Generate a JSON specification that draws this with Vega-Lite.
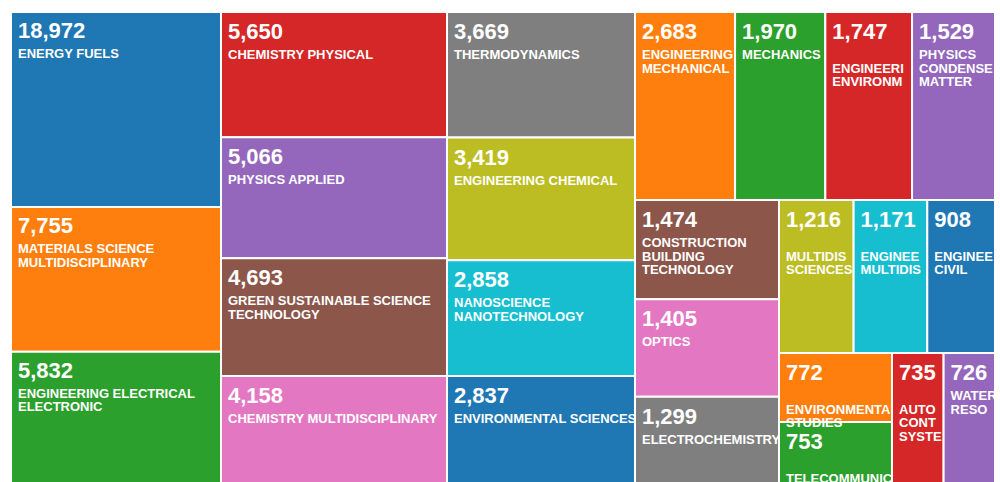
{
  "$schema": "https://vega.github.io/schema/vega-lite/v6.json",
  "background": "white",
  "padding": {"left": 11, "top": 11, "right": 0, "bottom": 0},
  "config": {"view": {"stroke": null}, "concat": {"spacing": 0}},
  "data": {
    "values": [
      {"name": "ENERGY FUELS", "value": 18972},
      {"name": "MATERIALS SCIENCE MULTIDISCIPLINARY", "value": 7755},
      {"name": "ENGINEERING ELECTRICAL ELECTRONIC", "value": 5832},
      {"name": "CHEMISTRY PHYSICAL", "value": 5650},
      {"name": "PHYSICS APPLIED", "value": 5066},
      {"name": "GREEN SUSTAINABLE SCIENCE TECHNOLOGY", "value": 4693},
      {"name": "CHEMISTRY MULTIDISCIPLINARY", "value": 4158},
      {"name": "THERMODYNAMICS", "value": 3669},
      {"name": "ENGINEERING CHEMICAL", "value": 3419},
      {"name": "NANOSCIENCE NANOTECHNOLOGY", "value": 2858},
      {"name": "ENVIRONMENTAL SCIENCES", "value": 2837},
      {"name": "ENGINEERING MECHANICAL", "value": 2683},
      {"name": "MECHANICS", "value": 1970},
      {"name": "ENGINEERING ENVIRONMENTAL", "value": 1747},
      {"name": "PHYSICS CONDENSED MATTER", "value": 1529},
      {"name": "CONSTRUCTION BUILDING TECHNOLOGY", "value": 1474},
      {"name": "OPTICS", "value": 1405},
      {"name": "ELECTROCHEMISTRY", "value": 1299},
      {"name": "MULTIDISCIPLINARY SCIENCES", "value": 1216},
      {"name": "ENGINEERING MULTIDISCIPLINARY", "value": 1171},
      {"name": "ENGINEERING CIVIL", "value": 908},
      {"name": "ENVIRONMENTAL STUDIES", "value": 772},
      {"name": "TELECOMMUNICATIONS", "value": 753},
      {"name": "AUTOMATION CONTROL SYSTEMS", "value": 735},
      {"name": "WATER RESOURCES", "value": 726}
    ]
  },
  "spacing": 0,
  "bounds": "flush",
  "hconcat": [
    {
      "width": 210, "height": 471,
      "transform": [
        {"filter": {"field": "name", "oneOf": ["ENERGY FUELS", "MATERIALS SCIENCE MULTIDISCIPLINARY", "ENGINEERING ELECTRICAL ELECTRONIC"]}},
        {"calculate": "pow(datum.value, 1/3)", "as": "w"},
        {"stack": "w", "groupby": [], "sort": [{"field": "value", "order": "descending"}], "as": ["w0", "w1"]},
        {"calculate": "210", "as": "cw"},
        {"calculate": "split(datum.name, ' ')[0]", "as": "fw"},
        {"calculate": "13 * (0.7 * length(datum.fw) - 0.422 * length(replace(datum.fw, regexp('[^I]', 'g'), '')))", "as": "fwpx"},
        {"calculate": "(datum.fwpx > datum.cw - 2 ? '\\n' : '') + replace(datum.name, regexp('(.{1,' + floor(datum.cw / 8.2) + '})( +|$)', 'g'), '$1\\n')", "as": "label"}
      ],
      "encoding": {
        "x": {"datum": 0, "type": "quantitative", "scale": {"domain": [0, 1]}, "axis": null},
        "y": {"field": "w0", "type": "quantitative", "scale": {"domain": [0, 64.4], "reverse": true, "nice": false}, "axis": null}
      },
      "layer": [
        {"mark": {"type": "rect", "stroke": "white", "strokeWidth": 2, "clip": true},
         "encoding": {"x2": {"datum": 1}, "y2": {"field": "w1"},
           "color": {"field": "name", "type": "nominal", "legend": null, "scale": {"domain": ["ENERGY FUELS", "MATERIALS SCIENCE MULTIDISCIPLINARY", "ENGINEERING ELECTRICAL ELECTRONIC", "CHEMISTRY PHYSICAL", "PHYSICS APPLIED", "GREEN SUSTAINABLE SCIENCE TECHNOLOGY", "CHEMISTRY MULTIDISCIPLINARY", "THERMODYNAMICS", "ENGINEERING CHEMICAL", "NANOSCIENCE NANOTECHNOLOGY", "ENVIRONMENTAL SCIENCES", "ENGINEERING MECHANICAL", "MECHANICS", "ENGINEERING ENVIRONMENTAL", "PHYSICS CONDENSED MATTER", "CONSTRUCTION BUILDING TECHNOLOGY", "OPTICS", "ELECTROCHEMISTRY", "MULTIDISCIPLINARY SCIENCES", "ENGINEERING MULTIDISCIPLINARY", "ENGINEERING CIVIL", "ENVIRONMENTAL STUDIES", "TELECOMMUNICATIONS", "AUTOMATION CONTROL SYSTEMS", "WATER RESOURCES"], "range": ["#1f77b4", "#ff7f0e", "#2ca02c", "#d62728", "#9467bd", "#8c564b", "#e377c2", "#7f7f7f", "#bcbd22", "#17becf"]}}}},
        {"mark": {"type": "text", "align": "left", "baseline": "alphabetic", "dx": 7, "dy": 26, "font": "Liberation Sans", "fontWeight": "bold", "fontSize": 22, "color": "white", "clip": true},
         "encoding": {"text": {"field": "value", "type": "quantitative", "format": ","}}},
        {"mark": {"type": "text", "align": "left", "baseline": "alphabetic", "dx": 7, "dy": 46, "font": "Liberation Sans", "fontWeight": "bold", "fontSize": 13, "lineHeight": 13.5, "lineBreak": "\n", "color": "white", "clip": true},
         "encoding": {"text": {"field": "label"}}}
      ]
    },
    {
      "width": 226, "height": 471,
      "transform": [
        {"filter": {"field": "name", "oneOf": ["CHEMISTRY PHYSICAL", "PHYSICS APPLIED", "GREEN SUSTAINABLE SCIENCE TECHNOLOGY", "CHEMISTRY MULTIDISCIPLINARY"]}},
        {"calculate": "pow(datum.value, 1/3)", "as": "w"},
        {"stack": "w", "groupby": [], "sort": [{"field": "value", "order": "descending"}], "as": ["w0", "w1"]},
        {"calculate": "226", "as": "cw"},
        {"calculate": "split(datum.name, ' ')[0]", "as": "fw"},
        {"calculate": "13 * (0.7 * length(datum.fw) - 0.422 * length(replace(datum.fw, regexp('[^I]', 'g'), '')))", "as": "fwpx"},
        {"calculate": "(datum.fwpx > datum.cw - 2 ? '\\n' : '') + replace(datum.name, regexp('(.{1,' + floor(datum.cw / 8.2) + '})( +|$)', 'g'), '$1\\n')", "as": "label"}
      ],
      "encoding": {
        "x": {"datum": 0, "type": "quantitative", "scale": {"domain": [0, 1]}, "axis": null},
        "y": {"field": "w0", "type": "quantitative", "scale": {"domain": [0, 66.92], "reverse": true, "nice": false}, "axis": null}
      },
      "layer": [
        {"mark": {"type": "rect", "stroke": "white", "strokeWidth": 2, "clip": true},
         "encoding": {"x2": {"datum": 1}, "y2": {"field": "w1"},
           "color": {"field": "name", "type": "nominal", "legend": null}}},
        {"mark": {"type": "text", "align": "left", "baseline": "alphabetic", "dx": 7, "dy": 27, "font": "Liberation Sans", "fontWeight": "bold", "fontSize": 22, "color": "white", "clip": true},
         "encoding": {"text": {"field": "value", "type": "quantitative", "format": ","}}},
        {"mark": {"type": "text", "align": "left", "baseline": "alphabetic", "dx": 7, "dy": 47, "font": "Liberation Sans", "fontWeight": "bold", "fontSize": 13, "lineHeight": 13.5, "lineBreak": "\n", "color": "white", "clip": true},
         "encoding": {"text": {"field": "label"}}}
      ]
    },
    {
      "width": 188, "height": 471,
      "transform": [
        {"filter": {"field": "name", "oneOf": ["THERMODYNAMICS", "ENGINEERING CHEMICAL", "NANOSCIENCE NANOTECHNOLOGY", "ENVIRONMENTAL SCIENCES"]}},
        {"calculate": "pow(datum.value, 1/3)", "as": "w"},
        {"stack": "w", "groupby": [], "sort": [{"field": "value", "order": "descending"}], "as": ["w0", "w1"]},
        {"calculate": "188", "as": "cw"},
        {"calculate": "split(datum.name, ' ')[0]", "as": "fw"},
        {"calculate": "13 * (0.7 * length(datum.fw) - 0.422 * length(replace(datum.fw, regexp('[^I]', 'g'), '')))", "as": "fwpx"},
        {"calculate": "(datum.fwpx > datum.cw - 2 ? '\\n' : '') + replace(datum.name, regexp('(.{1,' + floor(datum.cw / 8.2) + '})( +|$)', 'g'), '$1\\n')", "as": "label"}
      ],
      "encoding": {
        "x": {"datum": 0, "type": "quantitative", "scale": {"domain": [0, 1]}, "axis": null},
        "y": {"field": "w0", "type": "quantitative", "scale": {"domain": [0, 57.83], "reverse": true, "nice": false}, "axis": null}
      },
      "layer": [
        {"mark": {"type": "rect", "stroke": "white", "strokeWidth": 2, "clip": true},
         "encoding": {"x2": {"datum": 1}, "y2": {"field": "w1"},
           "color": {"field": "name", "type": "nominal", "legend": null}}},
        {"mark": {"type": "text", "align": "left", "baseline": "alphabetic", "dx": 7, "dy": 27, "font": "Liberation Sans", "fontWeight": "bold", "fontSize": 22, "color": "white", "clip": true},
         "encoding": {"text": {"field": "value", "type": "quantitative", "format": ","}}},
        {"mark": {"type": "text", "align": "left", "baseline": "alphabetic", "dx": 7, "dy": 47, "font": "Liberation Sans", "fontWeight": "bold", "fontSize": 13, "lineHeight": 13.5, "lineBreak": "\n", "color": "white", "clip": true},
         "encoding": {"text": {"field": "label"}}}
      ]
    },
    {
      "spacing": 0,
      "bounds": "flush",
      "vconcat": [
        {
          "width": 360, "height": 188,
          "transform": [
            {"filter": {"field": "name", "oneOf": ["ENGINEERING MECHANICAL", "MECHANICS", "ENGINEERING ENVIRONMENTAL", "PHYSICS CONDENSED MATTER"]}},
            {"calculate": "pow(datum.value, 1/3)", "as": "w"},
            {"stack": "w", "groupby": [], "sort": [{"field": "value", "order": "descending"}], "as": ["w0", "w1"]},
            {"joinaggregate": [{"op": "sum", "field": "w", "as": "total"}]},
            {"calculate": "(datum.w1 - datum.w0) / datum.total * 360", "as": "cw"},
            {"calculate": "split(datum.name, ' ')[0]", "as": "fw"},
            {"calculate": "13 * (0.7 * length(datum.fw) - 0.422 * length(replace(datum.fw, regexp('[^I]', 'g'), '')))", "as": "fwpx"},
            {"calculate": "(datum.fwpx > datum.cw - 2 ? '\\n' : '') + replace(datum.name, regexp('(.{1,' + floor(datum.cw / 8.2) + '})( +|$)', 'g'), '$1\\n')", "as": "label"}
          ],
          "encoding": {
            "x": {"field": "w0", "type": "quantitative", "scale": {"nice": false, "zero": true}, "axis": null},
            "y": {"datum": 0, "type": "quantitative", "scale": {"domain": [0, 1], "reverse": true}, "axis": null}
          },
          "layer": [
            {"mark": {"type": "rect", "stroke": "white", "strokeWidth": 2},
             "encoding": {"x2": {"field": "w1"}, "y2": {"datum": 1},
               "color": {"field": "name", "type": "nominal", "legend": null}}},
            {"mark": {"type": "text", "align": "left", "baseline": "alphabetic", "dx": 7, "dy": 27, "font": "Liberation Sans", "fontWeight": "bold", "fontSize": 22, "color": "white"},
             "encoding": {"text": {"field": "value", "type": "quantitative", "format": ","}}},
            {"mark": {"type": "text", "align": "left", "baseline": "alphabetic", "dx": 7, "dy": 47, "font": "Liberation Sans", "fontWeight": "bold", "fontSize": 13, "lineHeight": 13.5, "lineBreak": "\n", "color": "white", "limit": {"expr": "datum.cw - 5"}, "ellipsis": " "},
             "encoding": {"text": {"field": "label"}}}
          ]
        },
        {
          "spacing": 0,
          "bounds": "flush",
          "hconcat": [
            {
              "width": 144, "height": 283,
              "transform": [
                {"filter": {"field": "name", "oneOf": ["CONSTRUCTION BUILDING TECHNOLOGY", "OPTICS", "ELECTROCHEMISTRY"]}},
                {"calculate": "pow(datum.value, 1/3)", "as": "w"},
                {"stack": "w", "groupby": [], "sort": [{"field": "value", "order": "descending"}], "as": ["w0", "w1"]},
                {"calculate": "144", "as": "cw"},
                {"calculate": "split(datum.name, ' ')[0]", "as": "fw"},
                {"calculate": "13 * (0.7 * length(datum.fw) - 0.422 * length(replace(datum.fw, regexp('[^I]', 'g'), '')))", "as": "fwpx"},
                {"calculate": "(datum.fwpx > datum.cw - 2 ? '\\n' : '') + replace(datum.name, regexp('(.{1,' + floor(datum.cw / 8.2) + '})( +|$)', 'g'), '$1\\n')", "as": "label"}
              ],
              "encoding": {
                "x": {"datum": 0, "type": "quantitative", "scale": {"domain": [0, 1]}, "axis": null},
                "y": {"field": "w0", "type": "quantitative", "scale": {"domain": [0, 32.46], "reverse": true, "nice": false}, "axis": null}
              },
              "layer": [
                {"mark": {"type": "rect", "stroke": "white", "strokeWidth": 2, "clip": true},
                 "encoding": {"x2": {"datum": 1}, "y2": {"field": "w1"},
                   "color": {"field": "name", "type": "nominal", "legend": null}}},
                {"mark": {"type": "text", "align": "left", "baseline": "alphabetic", "dx": 7, "dy": 27, "font": "Liberation Sans", "fontWeight": "bold", "fontSize": 22, "color": "white", "clip": true},
                 "encoding": {"text": {"field": "value", "type": "quantitative", "format": ","}}},
                {"mark": {"type": "text", "align": "left", "baseline": "alphabetic", "dx": 7, "dy": 47, "font": "Liberation Sans", "fontWeight": "bold", "fontSize": 13, "lineHeight": 13.5, "lineBreak": "\n", "color": "white", "clip": true},
                 "encoding": {"text": {"field": "label"}}}
              ]
            },
            {
              "spacing": 0,
              "bounds": "flush",
              "vconcat": [
                {
                  "width": 216, "height": 153,
                  "transform": [
                    {"filter": {"field": "name", "oneOf": ["MULTIDISCIPLINARY SCIENCES", "ENGINEERING MULTIDISCIPLINARY", "ENGINEERING CIVIL"]}},
                    {"calculate": "pow(datum.value, 1/3)", "as": "w"},
                    {"stack": "w", "groupby": [], "sort": [{"field": "value", "order": "descending"}], "as": ["w0", "w1"]},
                    {"joinaggregate": [{"op": "sum", "field": "w", "as": "total"}]},
                    {"calculate": "(datum.w1 - datum.w0) / datum.total * 216", "as": "cw"},
                    {"calculate": "split(datum.name, ' ')[0]", "as": "fw"},
                    {"calculate": "13 * (0.7 * length(datum.fw) - 0.422 * length(replace(datum.fw, regexp('[^I]', 'g'), '')))", "as": "fwpx"},
                    {"calculate": "(datum.fwpx > datum.cw - 2 ? '\\n' : '') + replace(datum.name, regexp('(.{1,' + floor(datum.cw / 8.2) + '})( +|$)', 'g'), '$1\\n')", "as": "label"}
                  ],
                  "encoding": {
                    "x": {"field": "w0", "type": "quantitative", "scale": {"nice": false, "zero": true}, "axis": null},
                    "y": {"datum": 0, "type": "quantitative", "scale": {"domain": [0, 1], "reverse": true}, "axis": null}
                  },
                  "layer": [
                    {"mark": {"type": "rect", "stroke": "white", "strokeWidth": 2},
                     "encoding": {"x2": {"field": "w1"}, "y2": {"datum": 1},
                       "color": {"field": "name", "type": "nominal", "legend": null}}},
                    {"mark": {"type": "text", "align": "left", "baseline": "alphabetic", "dx": 7, "dy": 27, "font": "Liberation Sans", "fontWeight": "bold", "fontSize": 22, "color": "white"},
                     "encoding": {"text": {"field": "value", "type": "quantitative", "format": ","}}},
                    {"mark": {"type": "text", "align": "left", "baseline": "alphabetic", "dx": 7, "dy": 47, "font": "Liberation Sans", "fontWeight": "bold", "fontSize": 13, "lineHeight": 13.5, "lineBreak": "\n", "color": "white", "limit": {"expr": "datum.cw - 5"}, "ellipsis": " "},
                     "encoding": {"text": {"field": "label"}}}
                  ]
                },
                {
                  "spacing": 0,
                  "bounds": "flush",
                  "hconcat": [
                    {
                      "width": 113, "height": 130,
                      "transform": [
                        {"filter": {"field": "name", "oneOf": ["ENVIRONMENTAL STUDIES", "TELECOMMUNICATIONS"]}},
                        {"calculate": "pow(datum.value, 1/3)", "as": "w"},
                        {"stack": "w", "groupby": [], "sort": [{"field": "value", "order": "descending"}], "as": ["w0", "w1"]},
                        {"calculate": "113", "as": "cw"},
                        {"calculate": "split(datum.name, ' ')[0]", "as": "fw"},
                        {"calculate": "13 * (0.7 * length(datum.fw) - 0.422 * length(replace(datum.fw, regexp('[^I]', 'g'), '')))", "as": "fwpx"},
                        {"calculate": "(datum.fwpx > datum.cw - 2 ? '\\n' : '') + replace(datum.name, regexp('(.{1,' + floor(datum.cw / 8.2) + '})( +|$)', 'g'), '$1\\n')", "as": "label"}
                      ],
                      "encoding": {
                        "x": {"datum": 0, "type": "quantitative", "scale": {"domain": [0, 1]}, "axis": null},
                        "y": {"field": "w0", "type": "quantitative", "scale": {"domain": [0, 17.28], "reverse": true, "nice": false}, "axis": null}
                      },
                      "layer": [
                        {"mark": {"type": "rect", "stroke": "white", "strokeWidth": 2, "clip": true},
                         "encoding": {"x2": {"datum": 1}, "y2": {"field": "w1"},
                           "color": {"field": "name", "type": "nominal", "legend": null}}},
                        {"mark": {"type": "text", "align": "left", "baseline": "alphabetic", "dx": 7, "dy": 27, "font": "Liberation Sans", "fontWeight": "bold", "fontSize": 22, "color": "white", "clip": true},
                         "encoding": {"text": {"field": "value", "type": "quantitative", "format": ","}}},
                        {"mark": {"type": "text", "align": "left", "baseline": "alphabetic", "dx": 7, "dy": 47, "font": "Liberation Sans", "fontWeight": "bold", "fontSize": 13, "lineHeight": 13.5, "lineBreak": "\n", "color": "white", "clip": true},
                         "encoding": {"text": {"field": "label"}}}
                      ]
                    },
                    {
                      "width": 103, "height": 130,
                      "transform": [
                        {"filter": {"field": "name", "oneOf": ["AUTOMATION CONTROL SYSTEMS", "WATER RESOURCES"]}},
                        {"calculate": "pow(datum.value, 1/3)", "as": "w"},
                        {"stack": "w", "groupby": [], "sort": [{"field": "value", "order": "descending"}], "as": ["w0", "w1"]},
                        {"joinaggregate": [{"op": "sum", "field": "w", "as": "total"}]},
                        {"calculate": "(datum.w1 - datum.w0) / datum.total * 103", "as": "cw"},
                        {"calculate": "split(datum.name, ' ')[0]", "as": "fw"},
                        {"calculate": "13 * (0.7 * length(datum.fw) - 0.422 * length(replace(datum.fw, regexp('[^I]', 'g'), '')))", "as": "fwpx"},
                        {"calculate": "(datum.fwpx > datum.cw - 2 ? '\\n' : '') + replace(datum.name, regexp('(.{1,' + floor(datum.cw / 8.2) + '})( +|$)', 'g'), '$1\\n')", "as": "label"}
                      ],
                      "encoding": {
                        "x": {"field": "w0", "type": "quantitative", "scale": {"nice": false, "zero": true}, "axis": null},
                        "y": {"datum": 0, "type": "quantitative", "scale": {"domain": [0, 1], "reverse": true}, "axis": null}
                      },
                      "layer": [
                        {"mark": {"type": "rect", "stroke": "white", "strokeWidth": 2},
                         "encoding": {"x2": {"field": "w1"}, "y2": {"datum": 1},
                           "color": {"field": "name", "type": "nominal", "legend": null}}},
                        {"mark": {"type": "text", "align": "left", "baseline": "alphabetic", "dx": 7, "dy": 27, "font": "Liberation Sans", "fontWeight": "bold", "fontSize": 22, "color": "white"},
                         "encoding": {"text": {"field": "value", "type": "quantitative", "format": ","}}},
                        {"mark": {"type": "text", "align": "left", "baseline": "alphabetic", "dx": 7, "dy": 47, "font": "Liberation Sans", "fontWeight": "bold", "fontSize": 13, "lineHeight": 13.5, "lineBreak": "\n", "color": "white", "limit": {"expr": "datum.cw - 5"}, "ellipsis": " "},
                         "encoding": {"text": {"field": "label"}}}
                      ]
                    }
                  ]
                }
              ]
            }
          ]
        }
      ]
    }
  ]
}
